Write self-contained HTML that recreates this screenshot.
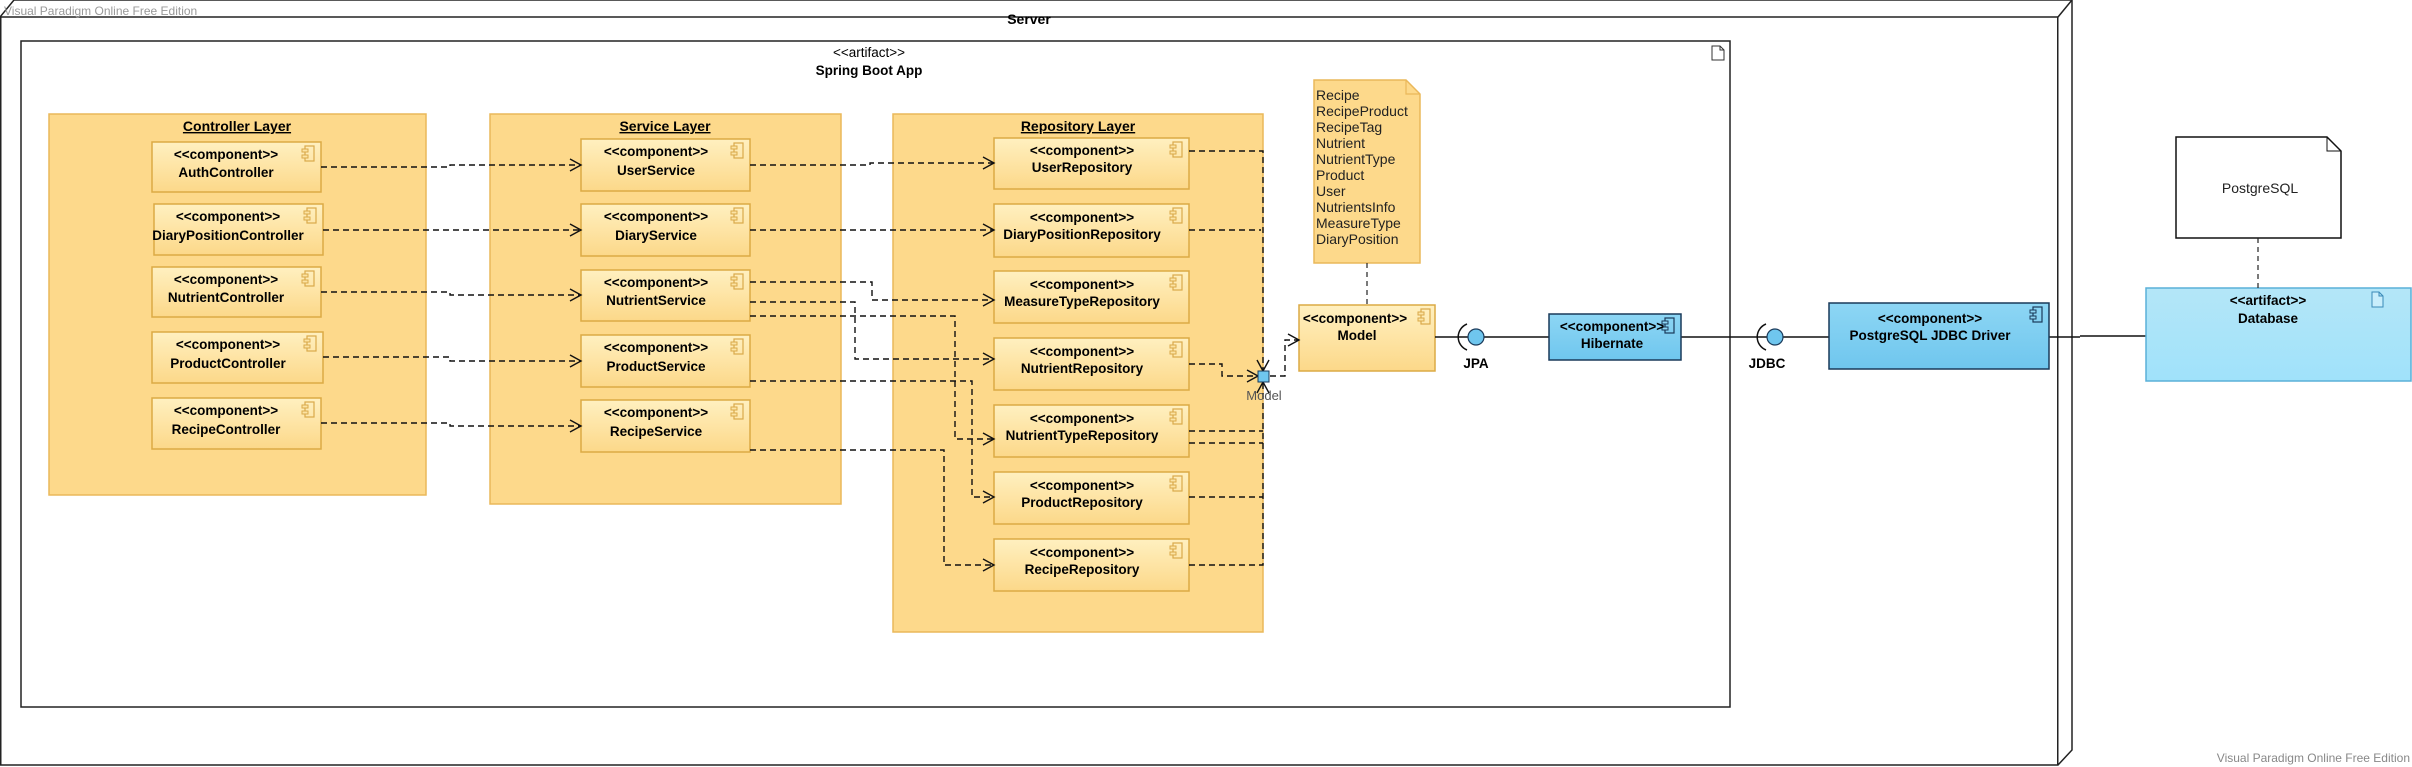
<!DOCTYPE html>
<html><head><meta charset="utf-8"><style>
html,body{margin:0;padding:0;background:#fff;}
svg{display:block;font-family:"Liberation Sans",Arial,sans-serif;}
</style></head><body>
<svg width="2412" height="767" viewBox="0 0 2412 767" xmlns="http://www.w3.org/2000/svg">
<defs>
<linearGradient id="cg" x1="0" y1="0" x2="0" y2="1"><stop offset="0" stop-color="#fff0c0"/><stop offset="1" stop-color="#fcd889"/></linearGradient>
<linearGradient id="bg" x1="0" y1="0" x2="0" y2="1"><stop offset="0" stop-color="#8dd6f4"/><stop offset="1" stop-color="#6fc6ee"/></linearGradient>
<linearGradient id="dg" x1="0" y1="0" x2="0" y2="1"><stop offset="0" stop-color="#b4e6f8"/><stop offset="1" stop-color="#a0e2fa"/></linearGradient>
<g id="ic"><rect x="3" y="0" width="9" height="15" fill="none" stroke="#d9a94a" stroke-width="1.2"/><rect x="0" y="3" width="6" height="3" fill="#fce3a3" stroke="#d9a94a" stroke-width="1"/><rect x="0" y="9" width="6" height="3" fill="#fce3a3" stroke="#d9a94a" stroke-width="1"/></g>
<g id="icb"><rect x="3" y="0" width="9" height="15" fill="none" stroke="#1a3a5a" stroke-width="1.2"/><rect x="0" y="3" width="6" height="3" fill="#8dd6f4" stroke="#1a3a5a" stroke-width="1"/><rect x="0" y="9" width="6" height="3" fill="#8dd6f4" stroke="#1a3a5a" stroke-width="1"/></g>
</defs>

<!-- Server node -->
<path d="M0 17 L14 0 L2072 0 L2072 750 L2058 765" fill="none" stroke="#222" stroke-width="1.5"/>
<rect x="0.75" y="17" width="2057" height="748" fill="none" stroke="#222" stroke-width="1.5"/>
<line x1="2058" y1="17" x2="2072" y2="0" stroke="#222" stroke-width="1.5"/>
<text x="1029" y="24" font-size="14" font-weight="bold" text-anchor="middle">Server</text>
<text x="4" y="15" font-size="12" fill="#999">Visual Paradigm Online Free Edition</text>

<!-- Spring Boot App -->
<rect x="21" y="41" width="1709" height="666" fill="#fff" stroke="#222" stroke-width="1.5"/>
<path d="M1712 46 h8 l4 4 v10 h-12 z M1720 46 v4 h4" fill="none" stroke="#333" stroke-width="1"/>
<text x="869" y="57" font-size="13.5" text-anchor="middle">&lt;&lt;artifact&gt;&gt;</text>
<text x="869" y="75" font-size="13.5" font-weight="bold" text-anchor="middle">Spring Boot App</text>

<!-- Layers -->
<g fill="#fdd98b" stroke="#eab85a" stroke-width="1.5">
<rect x="49" y="114" width="377" height="381"/>
<rect x="490" y="114" width="351" height="390"/>
<rect x="893" y="114" width="370" height="518"/>
</g>
<g font-size="14" font-weight="bold" text-anchor="middle" text-decoration="underline">
<text x="237" y="131">Controller Layer</text>
<text x="665" y="131">Service Layer</text>
<text x="1078" y="131">Repository Layer</text>
</g>

<!-- Components -->
<g font-size="13.5" font-weight="bold" text-anchor="middle">
<g stroke="#dcaa45" stroke-width="1.5" fill="url(#cg)">
<rect x="152" y="142" width="169" height="50"/><rect x="154" y="204" width="169" height="51"/><rect x="152" y="267" width="169" height="50"/><rect x="152" y="332" width="171" height="51"/><rect x="152" y="398" width="169" height="51"/>
<rect x="581" y="139" width="169" height="52"/><rect x="581" y="204" width="169" height="52"/><rect x="581" y="270" width="169" height="51"/><rect x="581" y="335" width="169" height="52"/><rect x="581" y="400" width="169" height="52"/>
<rect x="994" y="138" width="195" height="51"/><rect x="994" y="204" width="195" height="53"/><rect x="994" y="271" width="195" height="52"/><rect x="994" y="338" width="195" height="52"/><rect x="994" y="405" width="195" height="52"/><rect x="994" y="472" width="195" height="52"/><rect x="994" y="539" width="195" height="52"/>
<rect x="1299" y="305" width="136" height="66"/>
</g>
<use href="#ic" x="302" y="146"/><use href="#ic" x="304" y="208"/><use href="#ic" x="302" y="271"/><use href="#ic" x="304" y="336"/><use href="#ic" x="302" y="402"/>
<use href="#ic" x="731" y="143"/><use href="#ic" x="731" y="208"/><use href="#ic" x="731" y="274"/><use href="#ic" x="731" y="339"/><use href="#ic" x="731" y="404"/>
<use href="#ic" x="1170" y="142"/><use href="#ic" x="1170" y="208"/><use href="#ic" x="1170" y="275"/><use href="#ic" x="1170" y="342"/><use href="#ic" x="1170" y="409"/><use href="#ic" x="1170" y="476"/><use href="#ic" x="1170" y="543"/>
<use href="#ic" x="1418" y="309"/>

<text x="226" y="159">&lt;&lt;component&gt;&gt;</text><text x="226" y="177">AuthController</text>
<text x="228" y="221">&lt;&lt;component&gt;&gt;</text><text x="228" y="240">DiaryPositionController</text>
<text x="226" y="284">&lt;&lt;component&gt;&gt;</text><text x="226" y="302">NutrientController</text>
<text x="228" y="349">&lt;&lt;component&gt;&gt;</text><text x="228" y="368">ProductController</text>
<text x="226" y="415">&lt;&lt;component&gt;&gt;</text><text x="226" y="434">RecipeController</text>

<text x="656" y="156">&lt;&lt;component&gt;&gt;</text><text x="656" y="175">UserService</text>
<text x="656" y="221">&lt;&lt;component&gt;&gt;</text><text x="656" y="240">DiaryService</text>
<text x="656" y="287">&lt;&lt;component&gt;&gt;</text><text x="656" y="305">NutrientService</text>
<text x="656" y="352">&lt;&lt;component&gt;&gt;</text><text x="656" y="371">ProductService</text>
<text x="656" y="417">&lt;&lt;component&gt;&gt;</text><text x="656" y="436">RecipeService</text>

<text x="1082" y="155">&lt;&lt;component&gt;&gt;</text><text x="1082" y="172">UserRepository</text>
<text x="1082" y="222">&lt;&lt;component&gt;&gt;</text><text x="1082" y="239">DiaryPositionRepository</text>
<text x="1082" y="289">&lt;&lt;component&gt;&gt;</text><text x="1082" y="306">MeasureTypeRepository</text>
<text x="1082" y="356">&lt;&lt;component&gt;&gt;</text><text x="1082" y="373">NutrientRepository</text>
<text x="1082" y="423">&lt;&lt;component&gt;&gt;</text><text x="1082" y="440">NutrientTypeRepository</text>
<text x="1082" y="490">&lt;&lt;component&gt;&gt;</text><text x="1082" y="507">ProductRepository</text>
<text x="1082" y="557">&lt;&lt;component&gt;&gt;</text><text x="1082" y="574">RecipeRepository</text>

<text x="1355" y="323">&lt;&lt;component&gt;&gt;</text><text x="1357" y="340">Model</text>
</g>

<!-- Note -->
<path d="M1314 80 H1406 L1420 94 V263 H1314 Z" fill="#fdd98b" stroke="#eab85a" stroke-width="1.5"/>
<path d="M1406 80 V94 H1420" fill="none" stroke="#eab85a" stroke-width="1.2"/>
<g font-size="14" fill="#222">
<text x="1316" y="100">Recipe</text><text x="1316" y="116">RecipeProduct</text><text x="1316" y="132">RecipeTag</text><text x="1316" y="148">Nutrient</text><text x="1316" y="164">NutrientType</text><text x="1316" y="180">Product</text><text x="1316" y="196">User</text><text x="1316" y="212">NutrientsInfo</text><text x="1316" y="228">MeasureType</text><text x="1316" y="244">DiaryPosition</text>
</g>
<line x1="1367" y1="263" x2="1367" y2="305" stroke="#222" stroke-width="1.2" stroke-dasharray="5,4"/>

<!-- Dashed connectors -->
<g fill="none" stroke="#111" stroke-width="1.4" stroke-dasharray="6,4">
<path d="M321 167 H450 V165 H581"/>
<path d="M323 230 H581"/>
<path d="M321 292 H450 V295 H581"/>
<path d="M323 357 H450 V361 H581"/>
<path d="M321 423 H450 V426 H581"/>
<path d="M750 165 H870 V163 H994"/>
<path d="M750 230 H994"/>
<path d="M750 282 H872 V300 H994"/>
<path d="M750 302 H855 V359 H994"/>
<path d="M750 316 H955 V439 H994"/>
<path d="M750 381 H972 V497 H994"/>
<path d="M750 450 H944 V565 H994"/>
<path d="M1189 151 H1263 V371"/>
<path d="M1189 230 H1261"/>
<path d="M1189 364 H1222 V376 H1258"/>
<path d="M1189 431 H1263"/>
<path d="M1189 443 H1263"/>
<path d="M1189 497 H1263"/>
<path d="M1189 565 H1263 V382"/>
<path d="M1270 376 H1285 V340 H1299"/>
</g>
<!-- arrowheads -->
<g fill="none" stroke="#111" stroke-width="1.4">
<path d="M570 159 L581 165 L570 171"/><path d="M570 224 L581 230 L570 236"/><path d="M570 289 L581 295 L570 301"/><path d="M570 355 L581 361 L570 367"/><path d="M570 420 L581 426 L570 432"/>
<path d="M983 157 L994 163 L983 169"/><path d="M983 224 L994 230 L983 236"/><path d="M983 294 L994 300 L983 306"/><path d="M983 353 L994 359 L983 365"/><path d="M983 433 L994 439 L983 445"/><path d="M983 491 L994 497 L983 503"/><path d="M983 559 L994 565 L983 571"/>
<path d="M1247 370 L1258 376 L1247 382"/><path d="M1257 360 L1263 371 L1269 360"/><path d="M1257 393 L1263 382 L1269 393"/>
<path d="M1288 334 L1299 340 L1288 346"/>
</g>
<rect x="1258" y="371" width="11" height="11" fill="#6fc6ee" stroke="#1a3a5a" stroke-width="1"/>
<text x="1264" y="400" font-size="13" fill="#555" text-anchor="middle">Model</text>

<!-- JPA / Hibernate / JDBC / Driver -->
<g stroke="#111" stroke-width="1.5" fill="none">
<line x1="1435" y1="337" x2="1468" y2="337"/>
<line x1="1484" y1="337" x2="1549" y2="337"/>
<line x1="1681" y1="337" x2="1767" y2="337"/>
<line x1="1783" y1="337" x2="1829" y2="337"/>
<line x1="2049" y1="337" x2="2080" y2="337"/>
<line x1="2080" y1="336" x2="2146" y2="336"/>
<path d="M1467 324 A14 14 0 0 0 1467 350"/>
<path d="M1766 324 A14 14 0 0 0 1766 350"/>
</g>
<circle cx="1476" cy="337" r="8" fill="#6fc6ee" stroke="#1a3a5a" stroke-width="1.2"/>
<circle cx="1775" cy="337" r="8" fill="#6fc6ee" stroke="#1a3a5a" stroke-width="1.2"/>
<text x="1476" y="368" font-size="13.5" font-weight="bold" text-anchor="middle">JPA</text>
<text x="1767" y="368" font-size="13.5" font-weight="bold" text-anchor="middle">JDBC</text>

<rect x="1549" y="314" width="132" height="46" fill="url(#bg)" stroke="#1a3a5a" stroke-width="1.5"/>
<use href="#icb" x="1662" y="318"/>
<text x="1612" y="331" font-size="13.5" font-weight="bold" text-anchor="middle">&lt;&lt;component&gt;&gt;</text>
<text x="1612" y="348" font-size="13.5" font-weight="bold" text-anchor="middle">Hibernate</text>

<rect x="1829" y="303" width="220" height="66" fill="url(#bg)" stroke="#1a3a5a" stroke-width="1.5"/>
<use href="#icb" x="2030" y="307"/>
<text x="1930" y="323" font-size="13.5" font-weight="bold" text-anchor="middle">&lt;&lt;component&gt;&gt;</text>
<text x="1930" y="340" font-size="13.5" font-weight="bold" text-anchor="middle">PostgreSQL JDBC Driver</text>

<!-- Database -->
<rect x="2146" y="288" width="265" height="93" fill="url(#dg)" stroke="#5ab0d8" stroke-width="1.5"/>
<path d="M2372 292 h7 l4 4 v11 h-11 z M2379 292 v4 h4" fill="#c8eefc" stroke="#3a8ab8" stroke-width="1"/>
<text x="2268" y="305" font-size="13.5" font-weight="bold" text-anchor="middle">&lt;&lt;artifact&gt;&gt;</text>
<text x="2268" y="323" font-size="13.5" font-weight="bold" text-anchor="middle">Database</text>

<!-- PostgreSQL note -->
<path d="M2176 137 H2327 L2341 151 V238 H2176 Z" fill="#fff" stroke="#111" stroke-width="1.5"/>
<path d="M2327 137 V151 H2341" fill="none" stroke="#111" stroke-width="1"/>
<text x="2260" y="193" font-size="14" text-anchor="middle" fill="#222">PostgreSQL</text>
<line x1="2258" y1="238" x2="2258" y2="288" stroke="#222" stroke-width="1.2" stroke-dasharray="5,4"/>

<text x="2410" y="762" font-size="12" fill="#888" text-anchor="end">Visual Paradigm Online Free Edition</text>
</svg>
</body></html>
